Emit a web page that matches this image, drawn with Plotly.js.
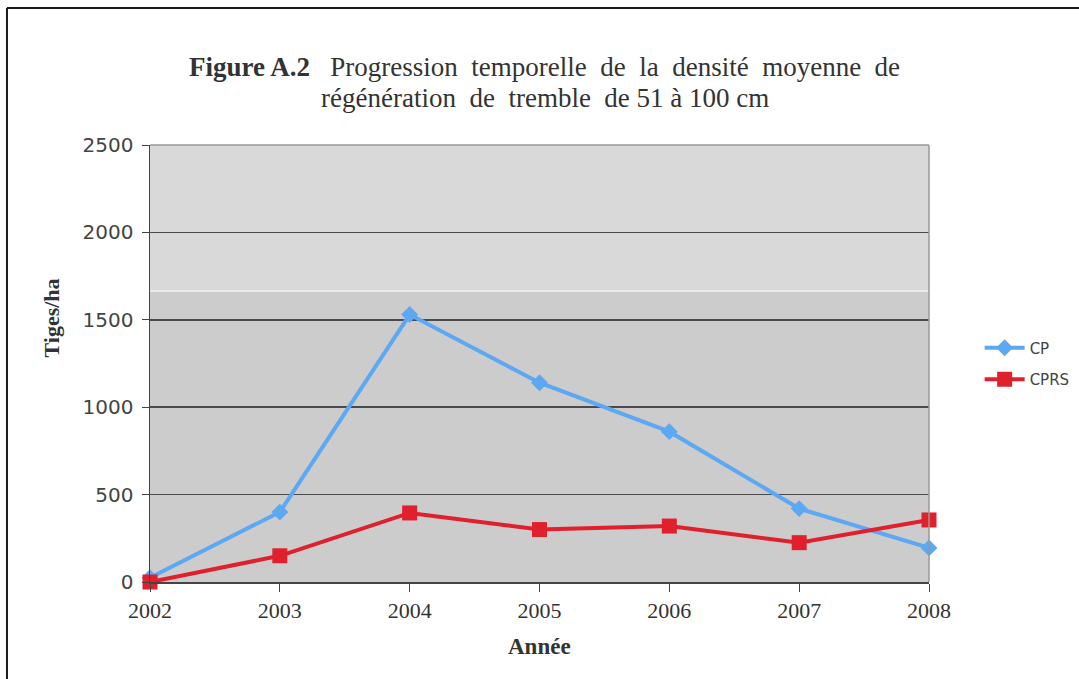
<!DOCTYPE html>
<html>
<head>
<meta charset="utf-8">
<script src="https://cdn.plot.ly/plotly-3.0.1.min.js"></script>
<style>
html,body{margin:0;padding:0;background:#fff;}
#chart{width:1079px;height:679px;}
</style>
</head>
<body>
<div id="chart"></div>
<script>
const years = [2002, 2003, 2004, 2005, 2006, 2007, 2008];
const cpValues = [25, 400, 1530, 1140, 860, 420, 195];
const cprsValues = [0, 150, 395, 300, 320, 225, 355];
const yTicks = [0, 500, 1000, 1500, 2000, 2500];
const seriesNames = ['CP', 'CPRS'];

const traces = [
  {
    x: years, y: cpValues, name: seriesNames[0], type: 'scatter', mode: 'lines+markers',
    line: {color: '#5ca8f2', width: 4},
    marker: {symbol: 'diamond', size: 13, color: '#5ca8f2'},
    cliponaxis: false, legendgroup: 'a'
  },
  {
    x: years, y: cprsValues, name: seriesNames[1], type: 'scatter', mode: 'lines+markers',
    line: {color: '#e0202c', width: 4},
    marker: {symbol: 'square', size: 15, color: '#e0202c'},
    cliponaxis: false, legendgroup: 'b'
  }
];

const layout = {
  width: 1079, height: 679,
  margin: {l: 150, r: 150, t: 145, b: 97, autoexpand: false},
  paper_bgcolor: '#ffffff',
  plot_bgcolor: '#cccccc',
  showlegend: true,
  legend: {
    x: 1.065, y: 0.5, xanchor: 'left', yanchor: 'middle',
    font: {family: 'DejaVu Sans', size: 15, color: '#444'},
    itemwidth: 40,
    tracegroupgap: 9, traceorder: 'grouped', bgcolor: 'rgba(0,0,0,0)'
  },
  xaxis: {
    type: 'linear', range: [2002, 2008], tickvals: years, ticktext: years.map(String),
    showgrid: false, zeroline: false,
    showline: true, linecolor: '#444', linewidth: 1.5,
    ticks: 'outside', ticklen: 8, tickcolor: '#444', tickwidth: 1,
    tickfont: {family: 'Liberation Serif', size: 22, color: '#333'},
    fixedrange: true
  },
  yaxis: {
    range: [0, 2500], tickvals: yTicks, ticktext: yTicks.map(String),
    showgrid: true, gridcolor: '#4a4a4a', gridwidth: 1.5, zeroline: false,
    showline: true, linecolor: '#444', linewidth: 1.5,
    ticks: 'outside', ticklen: 7, tickcolor: '#444',
    ticklabelstandoff: 4,
    tickfont: {family: 'DejaVu Sans', size: 20, color: '#444'},
    fixedrange: true
  },
  shapes: [
    {type: 'rect', xref: 'paper', yref: 'y', x0: 0, x1: 1, y0: 1665, y1: 2500,
     fillcolor: '#d9d9d9', line: {width: 0}, layer: 'below'},
    {type: 'line', xref: 'paper', yref: 'y', x0: 0, x1: 1, y0: 1665, y1: 1665,
     line: {color: '#f2f2f2', width: 1.5}, layer: 'below'},
    {type: 'line', xref: 'paper', yref: 'paper', x0: 0, x1: 1, y0: 1, y1: 1,
     line: {color: '#999', width: 1.5}, layer: 'above'},
    {type: 'line', xref: 'paper', yref: 'paper', x0: 1, x1: 1, y0: 0, y1: 1,
     line: {color: '#999', width: 1.5}, layer: 'above'},
    {type: 'line', xref: 'paper', yref: 'paper', x0: -0.1836, x1: 1.2, y0: 1.3135, y1: 1.3135,
     line: {color: '#1a1a1a', width: 2}},
    {type: 'line', xref: 'paper', yref: 'paper', x0: -0.1836, x1: -0.1836, y0: -0.25, y1: 1.3135,
     line: {color: '#1a1a1a', width: 2}}
  ],
  annotations: [
    {xref: 'paper', yref: 'paper', x: 0.507, y: 1.178, xanchor: 'center', yanchor: 'middle',
     showarrow: false, align: 'center',
     text: '<b>Figure A.2</b>   Progression  temporelle  de  la  densité  moyenne  de',
     font: {family: 'Liberation Serif', size: 27, color: '#333'}},
    {xref: 'paper', yref: 'paper', x: 0.507, y: 1.108, xanchor: 'center', yanchor: 'middle',
     showarrow: false, align: 'center',
     text: 'régénération  de  tremble  de 51 à 100 cm',
     font: {family: 'Liberation Serif', size: 27, color: '#333'}},
    {xref: 'paper', yref: 'paper', x: -0.126, y: 0.605, xanchor: 'center', yanchor: 'middle',
     showarrow: false, textangle: -90, text: '<b>Tiges/ha</b>',
     font: {family: 'Liberation Serif', size: 22, color: '#333'}},
    {xref: 'paper', yref: 'paper', x: 0.5, y: -0.148, xanchor: 'center', yanchor: 'middle',
     showarrow: false, text: '<b>Année</b>',
     font: {family: 'Liberation Serif', size: 23, color: '#333'}}
  ]
};

Plotly.newPlot('chart', traces, layout, {displayModeBar: false, staticPlot: true});
</script>
</body>
</html>
